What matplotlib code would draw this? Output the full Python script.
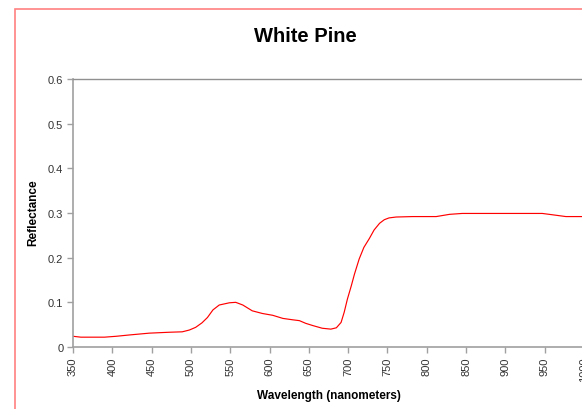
import matplotlib
matplotlib.use("Agg")
import matplotlib.pyplot as plt
from matplotlib.patches import Rectangle

plt.rcParams['font.family'] = ['Liberation Sans', 'DejaVu Sans']

# Spectral reflectance of white pine needles
wavelength = [350, 360, 375, 390, 405, 422, 447, 472, 489, 498, 506, 514, 521,
              528, 536, 549, 557, 566, 578, 591, 604, 617, 629, 638, 646, 655,
              667, 678, 685, 691, 695, 699, 704, 708, 714, 720, 727, 733, 740,
              746, 752, 761, 782, 812, 829, 845, 900, 947, 960, 977, 994, 1000]
reflectance = [0.024, 0.022, 0.022, 0.022, 0.024, 0.027, 0.031, 0.033, 0.034,
               0.038, 0.044, 0.054, 0.066, 0.083, 0.094, 0.099, 0.100, 0.094,
               0.081, 0.075, 0.071, 0.064, 0.061, 0.059, 0.053, 0.048, 0.042,
               0.040, 0.043, 0.055, 0.078, 0.107, 0.137, 0.163, 0.197, 0.223,
               0.243, 0.262, 0.277, 0.285, 0.289, 0.291, 0.292, 0.292, 0.297,
               0.299, 0.299, 0.299, 0.296, 0.292, 0.292, 0.292]
x_ticks = list(range(350, 1001, 50))
y_ticks = [0, 0.1, 0.2, 0.3, 0.4, 0.5, 0.6]

W, H = 582, 410
fig = plt.figure(figsize=(W / 100, H / 100), dpi=100)
fig.patch.set_facecolor('white')

# Chart-area border
fig.patches.append(Rectangle((14.5 / W, -0.1), 1.2, (H - 9.5) / H + 0.1,
                             transform=fig.transFigure, fill=False,
                             edgecolor='#FF8080', linewidth=1.2))

ax = fig.add_axes([73 / W, 62 / H, (584 - 73) / W, (348 - 80) / H])
ax.plot(wavelength, reflectance, color='#FF0000', linewidth=0.85)

ax.set_xlim(350, 1000)
ax.set_ylim(0, 0.6)
ax.set_xticks(x_ticks)
ax.set_xticklabels([str(t) for t in x_ticks], rotation=90)
ax.set_yticks(y_ticks)
ax.set_yticklabels(['0' if t == 0 else f'{t:.1f}' for t in y_ticks])

for side in ['left', 'bottom', 'top', 'right']:
    ax.spines[side].set_color('#A0A0A0')
    ax.spines[side].set_linewidth(1.2)
ax.spines['top'].set_color('#909090')
ax.spines['top'].set_linewidth(1.0)

ax.tick_params(axis='both', direction='out', length=4, width=1,
               color='#A0A0A0', labelsize=8, labelcolor='#333333', pad=3)

fig.text(305 / W, 1 - 36 / H, 'White Pine', ha='center', va='center',
         fontsize=14.5, fontweight='bold')
fig.text(329 / W, 1 - 396 / H, 'Wavelength (nanometers)', ha='center',
         va='center', fontsize=8.5, fontweight='bold')
fig.text(33 / W, 1 - 213 / H, 'Reflectance', ha='center', va='center',
         rotation=90, fontsize=8.5, fontweight='bold')

fig.savefig('out.png', dpi=100)
